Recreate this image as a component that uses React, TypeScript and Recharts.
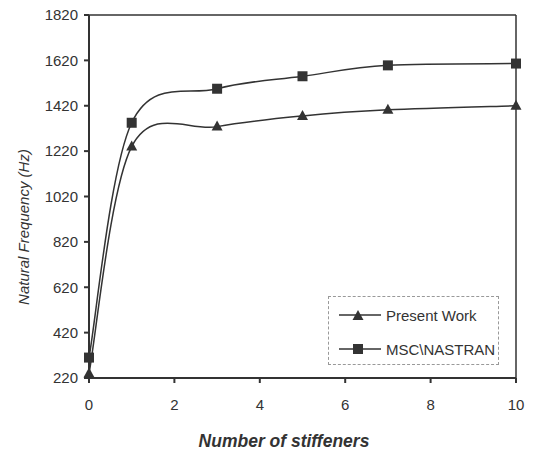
import { LineChart, Line, XAxis, YAxis, ReferenceLine } from 'recharts'

const stiffeners = [0, 1, 3, 5, 7, 10]
const presentWork = [240, 1240, 1328, 1375, 1402, 1420]
const mscNastran = [310, 1345, 1495, 1550, 1598, 1606]
const xTicks = [0, 2, 4, 6, 8, 10]
const yTicks = [220, 420, 620, 820, 1020, 1220, 1420, 1620, 1820]

const data = stiffeners.map((n, i) => ({ n, present: presentWork[i], msc: mscNastran[i] }))

const ink = '#333333'
const font = 'Arial, "Liberation Sans", sans-serif'

// Excel-like smoothed line (Catmull-Rom through the points)
function smooth(context: any) {
  let pts: number[][] = []
  return {
    areaStart() {},
    areaEnd() {},
    lineStart() { pts = [] },
    point(x: number, y: number) { pts.push([+x, +y]) },
    lineEnd() {
      if (!pts.length) return
      context.moveTo(pts[0][0], pts[0][1])
      for (let i = 0; i < pts.length - 1; i++) {
        const p0 = pts[i - 1] || pts[i]
        const p1 = pts[i]
        const p2 = pts[i + 1]
        const p3 = pts[i + 2] || p2
        context.bezierCurveTo(
          p1[0] + (p2[0] - p0[0]) / 6, p1[1] + (p2[1] - p0[1]) / 6,
          p2[0] - (p3[0] - p1[0]) / 6, p2[1] - (p3[1] - p1[1]) / 6,
          p2[0], p2[1],
        )
      }
    },
  }
}

const Triangle = ({ cx, cy }: any) =>
  cx == null ? null : <path d={`M${cx},${cy - 6} L${cx + 5.5},${cy + 4} L${cx - 5.5},${cy + 4} Z`} fill={ink} />

const Square = ({ cx, cy }: any) =>
  cx == null ? null : <rect x={cx - 5} y={cy - 5} width={10} height={10} fill={ink} />

const YTitle = () => (
  <text x={29} y={227} transform="rotate(-90 29 227)" textAnchor="middle" fill={ink}
    style={{ fontFamily: font, fontSize: 15, fontStyle: 'italic' }}>
    Natural Frequency (Hz)
  </text>
)

const XTitle = () => (
  <text x={284} y={447} textAnchor="middle" fill={ink}
    style={{ fontFamily: font, fontSize: 17.5, fontStyle: 'italic', fontWeight: 'bold' }}>
    Number of stiffeners
  </text>
)

function LegendRow({ label, marker }: { label: string; marker: 'tri' | 'sq' }) {
  return (
    <div style={{ display: 'flex', alignItems: 'center', height: 34 }}>
      <svg width={46} height={14} style={{ marginRight: 3 }}>
        <line x1={2} y1={7} x2={44} y2={7} stroke={ink} strokeWidth={1.5} />
        {marker === 'tri' ? <Triangle cx={21} cy={8} /> : <Square cx={21} cy={7} />}
      </svg>
      <span>{label}</span>
    </div>
  )
}

export default function App() {
  return (
    <div style={{ position: 'absolute', left: 0, top: 0, width: 534, height: 453, background: '#fff' }}>
      <LineChart width={534} height={453} data={data} margin={{ top: 15, right: 18, left: 0, bottom: 0 }}>
        <XAxis dataKey="n" type="number" domain={[0, 10]} ticks={xTicks} height={75}
          stroke={ink} strokeWidth={2} tickSize={5} tickMargin={16}
          tick={{ fill: ink, fontSize: 15, fontFamily: font }} label={<XTitle />} />
        <YAxis type="number" domain={[220, 1820]} ticks={yTicks} width={89}
          stroke={ink} strokeWidth={2} tickSize={5} tickMargin={6}
          tick={{ fill: ink, fontSize: 15, fontFamily: font }} label={<YTitle />} />
        <ReferenceLine y={1820} stroke={ink} strokeWidth={1.5} />
        <ReferenceLine x={10} stroke={ink} strokeWidth={1.5} />
        <Line dataKey="present" type={smooth as any} stroke={ink} strokeWidth={1.5}
          dot={<Triangle />} activeDot={false} isAnimationActive={false} />
        <Line dataKey="msc" type={smooth as any} stroke={ink} strokeWidth={1.5}
          dot={<Square />} activeDot={false} isAnimationActive={false} />
      </LineChart>
      <div style={{
        position: 'absolute', left: 328, top: 296, width: 171, height: 69, boxSizing: 'border-box',
        border: '1px dashed #999', padding: '1px 0 0 8px', fontFamily: font, fontSize: 15, color: ink,
      }}>
        <LegendRow label="Present Work" marker="tri" />
        <LegendRow label={'MSC\\NASTRAN'} marker="sq" />
      </div>
    </div>
  )
}
